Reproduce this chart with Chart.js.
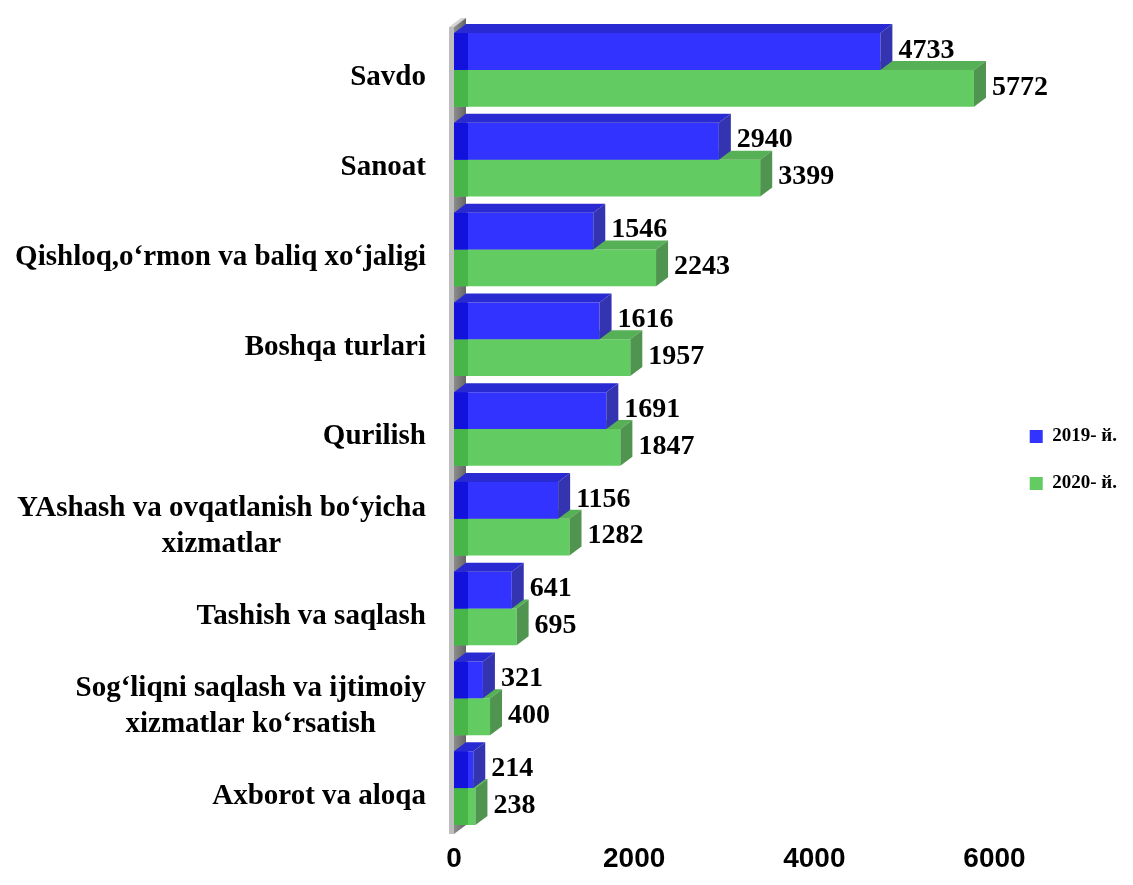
<!DOCTYPE html>
<html>
<head>
<meta charset="utf-8">
<script src="https://cdn.jsdelivr.net/npm/chart.js@4.4.1/dist/chart.umd.min.js"></script>
<style>
  html, body { margin: 0; padding: 0; background: #fff; }
  #wrap { width: 1133px; height: 885px; }
</style>
</head>
<body>
<div id="wrap"><canvas id="myBarChart"></canvas></div>
<script>
// data
const categories = [
  ["Savdo"],
  ["Sanoat"],
  ["Qishloq,o‘rmon va baliq xo‘jaligi"],
  ["Boshqa turlari"],
  ["Qurilish"],
  ["YAshash va ovqatlanish bo‘yicha", "xizmatlar"],
  ["Tashish va saqlash"],
  ["Sog‘liqni saqlash va ijtimoiy", "xizmatlar ko‘rsatish"],
  ["Axborot va aloqa"],
];
const values2019 = [4733, 2940, 1546, 1616, 1691, 1156, 641, 321, 214];
const values2020 = [5772, 3399, 2243, 1957, 1847, 1282, 695, 400, 238];
const seriesNames = ["2019- й.", "2020- й."];
const xTicks = [0, 2000, 4000, 6000];

const serif = '"Liberation Serif", "Times New Roman", serif';
const sans = '"Liberation Sans", Arial, sans-serif';

// depth of the fake 3d bars
const DX = 12;
const DY = 9;
const faces = [
  { top: "#2a2ad2", side: "#3434b0", strip: "#1212dc" }, // blue
  { top: "#56b056", side: "#4f944f", strip: "#47b547" }, // green
];

function poly(ctx, pts, color) {
  ctx.beginPath();
  ctx.moveTo(pts[0][0], pts[0][1]);
  for (let i = 1; i < pts.length; i++) ctx.lineTo(pts[i][0], pts[i][1]);
  ctx.closePath();
  ctx.fillStyle = color;
  ctx.fill();
}

// gray wall on the left + 3d faces on the bars
const bars3d = {
  id: "bars3d",
  beforeDatasetsDraw(chart) {
    const ctx = chart.ctx;
    const x0 = chart.scales.x.getPixelForValue(0);
    const top = chart.chartArea.top + 2;
    const bottom = chart.chartArea.bottom + 1;
    ctx.save();
    // top cap
    poly(ctx, [[x0 - 5, top], [x0 - 5 + DX, top - DY], [x0 + DX, top - DY], [x0, top]], "#d4d4d4");
    // front edge
    poly(ctx, [[x0 - 5, top], [x0, top], [x0, bottom], [x0 - 5, bottom]], "#bdbdbd");
    // side
    const g = ctx.createLinearGradient(x0, 0, x0 + DX, 0);
    g.addColorStop(0, "#8c8c8c");
    g.addColorStop(1, "#666666");
    poly(ctx, [[x0, top], [x0 + DX, top - DY], [x0 + DX, bottom - DY], [x0, bottom]], g);
    ctx.restore();
  },
  afterDatasetDraw(chart, args) {
    const ctx = chart.ctx;
    const f = faces[args.index];
    ctx.save();
    args.meta.data.forEach((bar) => {
      const { x, y, base, height } = bar.getProps(["x", "y", "base", "height"], true);
      const t = y - height / 2;
      const b = y + height / 2;
      poly(ctx, [[base, t], [base + DX, t - DY], [x + DX, t - DY], [x, t]], f.top);
      poly(ctx, [[x, t], [x + DX, t - DY], [x + DX, b - DY], [x, b]], f.side);
      ctx.fillStyle = f.strip;
      ctx.fillRect(base, t, Math.min(DX + 2, x - base), height);
    });
    ctx.restore();
  },
  afterDatasetsDraw(chart) {
    const ctx = chart.ctx;
    ctx.save();
    ctx.fillStyle = "#000";
    ctx.font = "bold 28px " + serif;
    ctx.textBaseline = "middle";
    ctx.textAlign = "left";
    chart.data.datasets.forEach((ds, i) => {
      chart.getDatasetMeta(i).data.forEach((bar, j) => {
        ctx.fillText(String(ds.data[j]), bar.x + DX + 6, bar.y - 1);
      });
    });
    // category labels: right edge fixed, multi-line blocks centred
    const yScale = chart.scales.y;
    const right = chart.chartArea.left - 28;
    const lineH = 36;
    ctx.font = "bold 29px " + serif;
    ctx.textAlign = "center";
    categories.forEach((lines, i) => {
      const cy = yScale.getPixelForValue(i) + 8;
      const w = Math.max(...lines.map((l) => ctx.measureText(l).width));
      const cx = right - w / 2;
      lines.forEach((l, k) => {
        ctx.fillText(l, cx, cy + (k - (lines.length - 1) / 2) * lineH);
      });
    });
    ctx.restore();
  },
};

const ctx = document.getElementById("myBarChart").getContext("2d");
const myBarChart = new Chart(ctx, {
  type: "bar",
  data: {
    labels: categories,
    datasets: [
      {
        label: seriesNames[0],
        data: values2019,
        backgroundColor: "#3333ff",
        borderWidth: 0,
        categoryPercentage: 0.82,
        barPercentage: 1.0,
      },
      {
        label: seriesNames[1],
        data: values2020,
        backgroundColor: "#62cc62",
        borderWidth: 0,
        categoryPercentage: 0.82,
        barPercentage: 1.0,
      },
    ],
  },
  options: {
    indexAxis: "y",
    responsive: true,
    maintainAspectRatio: false,
    animation: false,
    layout: {
      padding: { top: 25, right: 6, bottom: 0, left: 0 },
    },
    plugins: {
      legend: {
        position: "right",
        title: { display: true, text: "", padding: 2, font: { size: 5 } },
        labels: {
          boxWidth: 13,
          boxHeight: 13,
          padding: 28,
          color: "#000",
          font: { family: serif, size: 19, weight: "bold" },
        },
      },
      tooltip: { enabled: false },
    },
    scales: {
      x: {
        min: 0,
        max: 6080,
        grid: { display: false, drawTicks: false },
        border: { display: false },
        afterBuildTicks: (scale) => {
          scale.ticks = xTicks.map((v) => ({ value: v }));
        },
        ticks: {
          color: "#000",
          padding: 12,
          maxRotation: 0,
          font: { family: sans, size: 28, weight: "bold", lineHeight: 1 },
          callback: (v) => String(v),
        },
      },
      y: {
        grid: { display: false, drawTicks: false },
        border: { display: false },
        ticks: { display: false },
        afterFit: (scale) => {
          scale.width = 454;
        },
      },
    },
  },
  plugins: [bars3d],
});
</script>
</body>
</html>
